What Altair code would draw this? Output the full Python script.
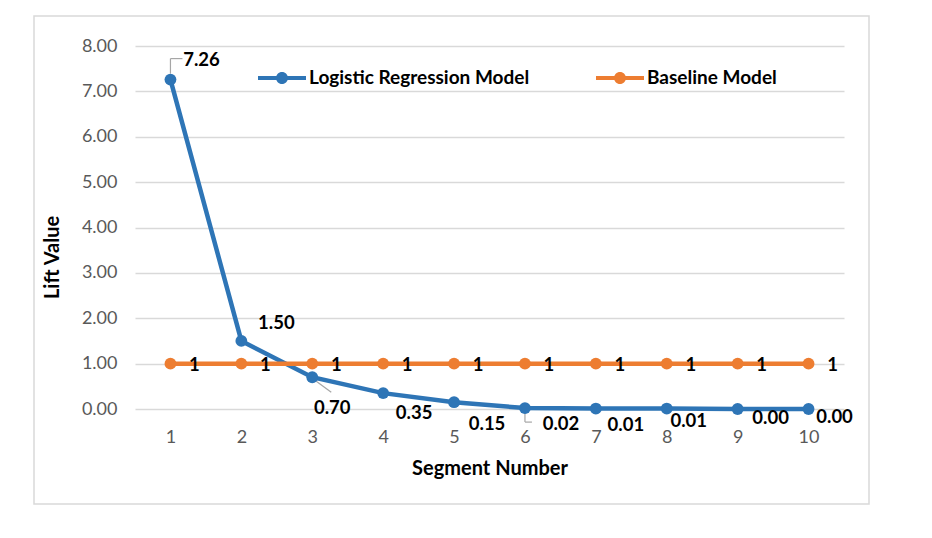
import altair as alt
import pandas as pd

# values
segments = list(range(1, 11))
logistic_lift = [7.26, 1.50, 0.70, 0.35, 0.15, 0.02, 0.01, 0.01, 0.00, 0.00]
baseline_lift = [1, 1, 1, 1, 1, 1, 1, 1, 1, 1]
series_names = ["Logistic Regression Model", "Baseline Model"]
series_colors = ["#2E75B6", "#ED7D31"]
y_ticks = [0, 1, 2, 3, 4, 5, 6, 7, 8]

FONT = "Lato"

logit = pd.DataFrame({"seg": segments, "lift": logistic_lift,
                      "series": series_names[0]})
logit["label"] = logit["lift"].map(lambda v: f"{v:.2f}")
base = pd.DataFrame({"seg": segments, "lift": baseline_lift,
                     "series": series_names[1]})
base["label"] = base["lift"].map(lambda v: f"{v:g}")
df = pd.concat([logit, base], ignore_index=True)

x_enc = alt.X("seg:O", title="Segment Number",
              scale=alt.Scale(type="point", padding=0.5),
              axis=alt.Axis(labelAngle=0, domain=False, ticks=False, grid=False,
                            labelPadding=19, labelColor="#595959",
                            labelFontSize=18, labelFont=FONT,
                            titleFont=FONT, titleFontSize=20, titleFontWeight="bold",
                            titleColor="#000000", titleY=59, titleBaseline="middle"))
y_enc = alt.Y("lift:Q", title="Lift Value",
              scale=alt.Scale(domain=[0, 8], nice=False),
              axis=alt.Axis(values=y_ticks, format=".2f", domain=False, ticks=False,
                            gridColor="#D9D9D9", gridWidth=1.3, labelPadding=18,
                            labelColor="#595959", labelFontSize=18, labelFont=FONT,
                            titleFont=FONT, titleFontSize=20, titleFontWeight="bold",
                            titleColor="#000000", titleX=-83, titleY=211,
                            titleBaseline="middle", titleAlign="center"))

# legend symbol: a short line with a dot in the middle
legend_path = ("M-1,-0.085H-0.22V0.085H-1Z "
               "M0.22,-0.085H1V0.085H0.22Z "
               "M0.25,0A0.25,0.25 0 1 1 -0.25,0A0.25,0.25 0 1 1 0.25,0Z")

series = alt.Chart(df).mark_line(
    strokeWidth=4.5, point=alt.OverlayMarkDef(filled=True, size=140, opacity=1)
).encode(
    x=x_enc, y=y_enc,
    color=alt.Color("series:N", sort=series_names, title=None,
                    scale=alt.Scale(domain=series_names, range=series_colors),
                    legend=alt.Legend(orient="none", legendX=123, legendY=8,
                                      direction="horizontal", symbolType=legend_path,
                                      symbolSize=2304, symbolStrokeWidth=0,
                                      symbolFillColor="black",
                                      labelFont=FONT, labelFontSize=19,
                                      labelFontWeight="bold", labelColor="#000000",
                                      labelLimit=400, labelOffset=3,
                                      columnPadding=66, padding=0)),
)

# data labels, Excel-style manual placement
label_offsets = {1: (31, -20), 2: (35, -18), 3: (20, 31), 4: (31, 20),
                 5: (33, 22), 6: (36, 16), 7: (30, 16), 8: (22, 12),
                 9: (33, 9), 10: (26, 8)}
text_style = dict(font=FONT, fontSize=18.5, fontWeight="bold", color="#000000",
                  baseline="middle", align="center")
label_layers = []
for seg, (dx, dy) in label_offsets.items():
    label_layers.append(
        alt.Chart(logit[logit["seg"] == seg]).mark_text(dx=dx, dy=dy, **text_style)
        .encode(x=x_enc, y=y_enc, text="label:N")
    )
base_labels = alt.Chart(base).mark_text(dx=24, dy=1, **text_style).encode(
    x=x_enc, y=y_enc, text="label:N")

# leader lines
lead = "#A6A6A6"
leaders = [
    alt.Chart(logit[logit["seg"] == 1]).mark_rule(color=lead, strokeWidth=1.2,
        yOffset=-6, y2Offset=-21).encode(x=x_enc, y=y_enc, y2="lift:Q"),
    alt.Chart(logit[logit["seg"] == 1]).mark_rule(color=lead, strokeWidth=1.2,
        yOffset=-21, y2Offset=-21, x2Offset=12).encode(x=x_enc, x2="seg:O", y=y_enc),
    alt.Chart(logit[logit["seg"] == 3]).mark_rule(color=lead, strokeWidth=1.2,
        xOffset=4, yOffset=4, x2Offset=19, y2Offset=15).encode(
        x=x_enc, x2="seg:O", y=y_enc, y2="lift:Q"),
    alt.Chart(logit[logit["seg"] == 6]).mark_rule(color=lead, strokeWidth=1.2,
        yOffset=5, y2Offset=14).encode(x=x_enc, y=y_enc, y2="lift:Q"),
    alt.Chart(logit[logit["seg"] == 6]).mark_rule(color=lead, strokeWidth=1.2,
        yOffset=14, y2Offset=14, x2Offset=7).encode(x=x_enc, x2="seg:O", y=y_enc),
]

frame = alt.Chart(pd.DataFrame({"k": [0]})).mark_rect(
    fillOpacity=0, stroke="#D9D9D9", strokeWidth=1.5, clip=False).encode(
    x=alt.value(-101), x2=alt.value(734), y=alt.value(-30), y2=alt.value(458))

chart = alt.layer(
    frame, *leaders, series, *label_layers, base_labels
).properties(
    width=709, height=363,
    autosize=alt.AutoSizeParams(type="none"),
    padding={"left": 127, "top": 38, "right": 80, "bottom": 100},
    background="white",
).configure_view(stroke=None)

chart.save("out.html", embed_options={"renderer": "svg", "actions": False})
